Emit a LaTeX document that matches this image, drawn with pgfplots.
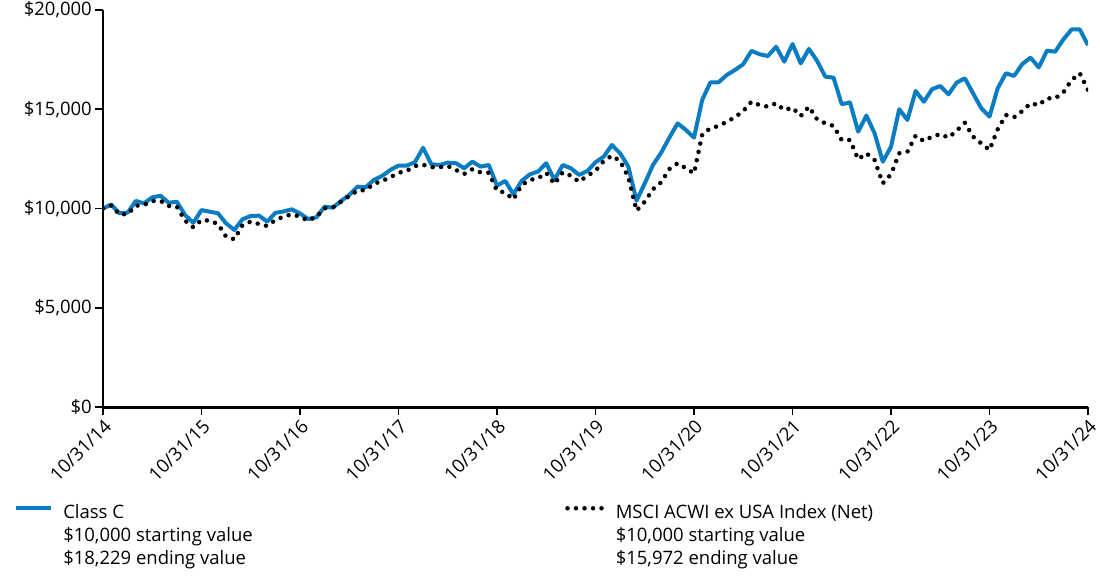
\documentclass[border=0pt]{standalone}
\usepackage{fontspec}
\setmainfont{Open Sans}
\usepackage{pgfplots}
\pgfplotsset{compat=1.18}
\definecolor{cblue}{RGB}{10,124,194}
\pgfplotsset{
  bluelegimg/.style={legend image code/.code={\draw[##1] (0pt,0.3em) -- (35pt,0.3em);}},
  dotlegimg/.style={legend image code/.code={\draw[##1] (2pt,0.3em) -- (40pt,0.3em);}},
}
\begin{document}
\begin{tikzpicture}
\useasboundingbox (-103pt,-171pt) rectangle (997pt,407pt);
\begin{axis}[
  at={(0,0)}, anchor=south west,
  scale only axis, width=985pt, height=397pt,
  xmin=0, xmax=120, ymin=0, ymax=20000,
  axis x line*=bottom, axis y line*=left,
  x axis line style={line width=3pt},
  y axis line style={line width=2pt},
  tick align=outside, major tick length=8pt,
  every tick/.style={black, line width=1.5pt},
  xtick={0,12,...,120},
  xticklabels={10/31/14,10/31/15,10/31/16,10/31/17,10/31/18,10/31/19,10/31/20,10/31/21,10/31/22,10/31/23,10/31/24},
  ytick={0,5000,10000,15000,20000},
  yticklabels={{\$0},{\$5,000},{\$10,000},{\$15,000},{\$20,000}},
  ticklabel style={font=\fontsize{18.5}{22}\selectfont},
  xticklabel style={rotate=45, anchor=north east, inner sep=2pt},
  yticklabel style={inner sep=3pt},
  legend columns=2,
  legend style={at={(axis description cs:-0.0903,-0.235)}, anchor=north west, draw=none, fill=none,
    font=\fontsize{18.5}{23}\selectfont, inner sep=0pt, row sep=0pt,
    /tikz/every even column/.append style={column sep=0pt}},
  legend cell align=left,
]
\addplot[cblue, line width=4pt, line join=round, bluelegimg] coordinates {
(0,10000)(1,10200)(2,9760)(3,9790)(4,10380)(5,10260)(6,10560)(7,10640)(8,10290)(9,10340)
(10,9670)(11,9280)(12,9920)(13,9840)(14,9760)(15,9250)(16,8920)(17,9460)(18,9620)(19,9640)
(20,9340)(21,9780)(22,9850)(23,9960)(24,9750)(25,9470)(26,9560)(27,10090)(28,10040)(29,10380)
(30,10680)(31,11100)(32,11070)(33,11440)(34,11640)(35,11940)(36,12160)(37,12160)(38,12330)(39,13060)
(40,12230)(41,12190)(42,12310)(43,12280)(44,12030)(45,12360)(46,12110)(47,12190)(48,11150)(49,11390)
(50,10720)(51,11390)(52,11720)(53,11860)(54,12280)(55,11440)(56,12190)(57,12030)(58,11690)(59,11890)
(60,12330)(61,12610)(62,13200)(63,12780)(64,12110)(65,10390)(66,11270)(67,12190)(68,12810)(69,13570)
(70,14290)(71,13960)(72,13570)(73,15470)(74,16360)(75,16360)(76,16730)(77,16980)(78,17270)(79,17940)
(80,17770)(81,17680)(82,18150)(83,17400)(84,18290)(85,17310)(86,18040)(87,17430)(88,16640)(89,16590)
(90,15250)(91,15350)(92,13870)(93,14680)(94,13790)(95,12360)(96,13110)(97,15000)(98,14460)(99,15920)
(100,15380)(101,16010)(102,16170)(103,15750)(104,16340)(105,16560)(106,15800)(107,15050)(108,14630)(109,16060)
(110,16810)(111,16680)(112,17280)(113,17600)(114,17110)(115,17950)(116,17900)(117,18520)(118,19020)(119,19020)
(120,18229)};
\addlegendentry{\hspace*{8pt}\begin{tabular}[t]{@{}p{500pt}@{}}Class C\\\$10,000 starting value\\\$18,229 ending value\end{tabular}}
\addplot[black, line width=4.5pt, line cap=round, dash pattern=on 0pt off 8.5pt, dotlegimg] coordinates {
(0,10000)(1,10150)(2,9700)(3,9720)(4,10140)(5,10180)(6,10380)(7,10390)(8,10130)(9,10090)
(10,9390)(11,9050)(12,9420)(13,9390)(14,9220)(15,8580)(16,8450)(17,9170)(18,9340)(19,9220)
(20,9120)(21,9420)(22,9590)(23,9710)(24,9590)(25,9390)(26,9590)(27,10010)(28,10060)(29,10340)
(30,10630)(31,10900)(32,10930)(33,11240)(34,11390)(35,11570)(36,11800)(37,11890)(38,12140)(39,12200)
(40,12080)(41,12080)(42,12140)(43,11940)(44,11740)(45,11980)(46,11820)(47,11800)(48,10900)(49,10800)
(50,10460)(51,11180)(52,11440)(53,11520)(54,11800)(55,11240)(56,11820)(57,11650)(58,11350)(59,11650)
(60,11900)(61,12390)(62,12660)(63,12390)(64,11570)(65,9890)(66,10340)(67,10970)(68,11320)(69,11990)
(70,12280)(71,12030)(72,11770)(73,13740)(74,14040)(75,14160)(76,14370)(77,14600)(78,14910)(79,15380)
(80,15210)(81,15130)(82,15300)(83,14960)(84,15080)(85,14660)(86,15130)(87,14490)(88,14290)(89,14160)
(90,13450)(91,13450)(92,12480)(93,12780)(94,12440)(95,11270)(96,11720)(97,12780)(98,12860)(99,13670)
(100,13400)(101,13620)(102,13750)(103,13570)(104,13920)(105,14320)(106,13620)(107,13280)(108,12950)(109,13990)
(110,14710)(111,14600)(112,14910)(113,15300)(114,15210)(115,15550)(116,15550)(117,15850)(118,16470)(119,16810)
(120,15972)};
\addlegendentry{\hspace*{6pt}\begin{tabular}[t]{@{}l@{}}MSCI ACWI ex USA Index (Net)\\\$10,000 starting value\\\$15,972 ending value\end{tabular}}
\end{axis}
\end{tikzpicture}
\end{document}
